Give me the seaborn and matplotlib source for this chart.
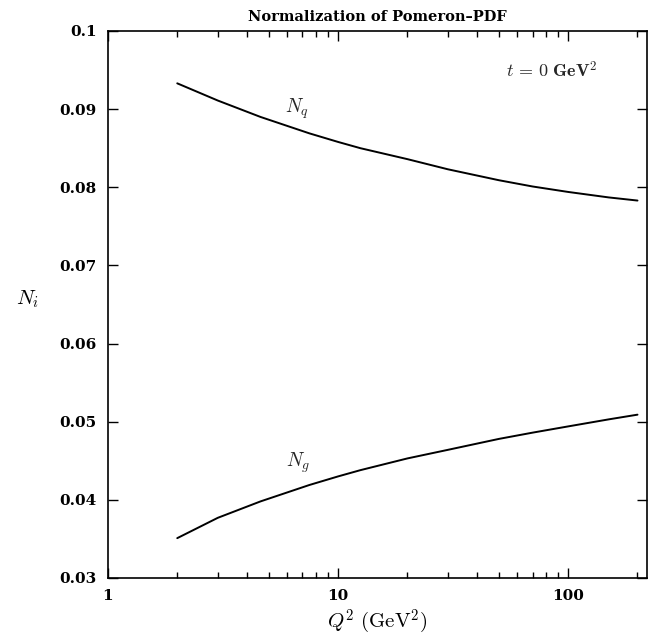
import numpy as np
import pandas as pd
import matplotlib
matplotlib.use('Agg')
import matplotlib.pyplot as plt
from matplotlib.ticker import FixedLocator, FixedFormatter, NullFormatter
import seaborn as sns

# values (t = 0 GeV^2)
q2 = [2, 3, 4.6, 7.5, 10, 12.5, 20, 30, 50, 70, 100, 150, 200]
n_q = [0.0933, 0.0911, 0.0890, 0.0869, 0.0858, 0.0850, 0.0836, 0.0823,
       0.0809, 0.0801, 0.0794, 0.0787, 0.0783]
n_g = [0.0351, 0.0377, 0.0398, 0.0419, 0.0430, 0.0438, 0.0453, 0.0464,
       0.0478, 0.0486, 0.0494, 0.0503, 0.0509]

x_ticks = [1, 10, 100]
x_labels = ['1', '10', '100']
y_ticks = [0.03, 0.04, 0.05, 0.06, 0.07, 0.08, 0.09, 0.1]
y_labels = ['0.03', '0.04', '0.05', '0.06', '0.07', '0.08', '0.09', '0.1']

df = pd.DataFrame({'Q2': q2 + q2, 'N': n_q + n_g,
                   'parton': ['q'] * len(q2) + ['g'] * len(q2)})

sns.set_style('ticks')
plt.rcParams['font.family'] = ['DejaVu Serif']
plt.rcParams['font.weight'] = 'bold'
plt.rcParams['mathtext.fontset'] = 'cm'

fig = plt.figure(figsize=(6.56, 6.36), dpi=100)
ax = fig.add_axes([0.1646, 0.0912, 0.8217, 0.8601])

sns.lineplot(data=df, x='Q2', y='N', units='parton', estimator=None,
             color='black', linewidth=1.4, ax=ax)

ax.set_xscale('log')
ax.set_xlim(1, 220)
ax.set_ylim(0.03, 0.1)

ax.xaxis.set_major_locator(FixedLocator(x_ticks))
ax.xaxis.set_major_formatter(FixedFormatter(x_labels))
ax.xaxis.set_minor_locator(FixedLocator([2, 3, 4, 5, 6, 7, 8, 9, 20, 30, 40, 50, 60, 70, 80, 90, 200]))
ax.xaxis.set_minor_formatter(NullFormatter())
ax.yaxis.set_major_locator(FixedLocator(y_ticks))
ax.yaxis.set_major_formatter(FixedFormatter(y_labels))

ax.tick_params(which='both', direction='in', top=True, right=True,
               labelsize=11, width=1.0, colors='black')
ax.tick_params(which='major', length=7, pad=8)
ax.tick_params(which='minor', length=4)
for s in ax.spines.values():
    s.set_linewidth(1.2)
    s.set_color('black')

ax.set_xlabel(r'$Q^2\ (\mathrm{GeV}^2)$', fontsize=15, labelpad=3, color='black')
ax.set_ylabel(r'$N_i$', fontsize=15, rotation=0, color='black')
ax.yaxis.set_label_coords(-0.15, 0.49)
ax.set_title('Normalization of Pomeron\u2013PDF', fontsize=10.5, pad=7,
             fontweight='bold', color='black')

ax.text(6.6, 0.0901, r'$N_q$', fontsize=14, ha='center', va='center')
ax.text(6.7, 0.0448, r'$N_g$', fontsize=14, ha='center', va='center')
ax.text(85, 0.0948, r'$t\,=\,0\ \mathbf{GeV}^2$', fontsize=13, ha='center', va='center')

fig.savefig('out.png', dpi=100)
